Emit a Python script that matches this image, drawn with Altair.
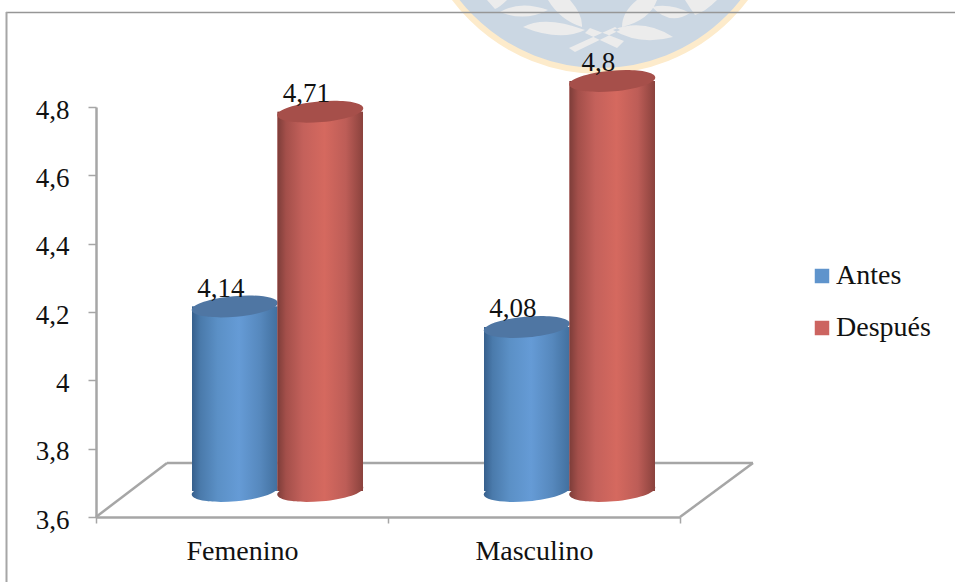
import altair as alt
import pandas as pd

grupos = ["Femenino", "Femenino", "Masculino", "Masculino"]
momentos = ["Antes", "Después", "Antes", "Después"]
valores = [4.14, 4.71, 4.08, 4.8]
etiquetas = ["4,14", "4,71", "4,08", "4,8"]
orden_grupos = ["Femenino", "Masculino"]
orden_momentos = ["Antes", "Después"]
colores = ["#5F94CC", "#CC6460"]
BASE = 3.6
TICKS = [3.6, 3.8, 4.0, 4.2, 4.4, 4.6, 4.8]

# Depth shift of the 3D floor: columns are lifted off the front edge
DY = -26
W, H = 584, 410
FONT = "Liberation Serif"
GRIS = "#A6A6A6"

df = pd.DataFrame({"grupo": grupos, "momento": momentos, "valor": valores,
                   "etiqueta": etiquetas, "base": [BASE] * 4})

escala_y = alt.Scale(domain=[3.6, 4.8], nice=False, zero=False)
x_enc = alt.X("grupo:N", scale=alt.Scale(domain=orden_grupos, paddingInner=0, paddingOuter=0),
              axis=alt.Axis(title=None, labelAngle=0, labelFont=FONT, labelFontSize=28,
                            labelColor="#111111", labelPadding=14, tickBand="extent",
                            tickSize=6, tickWidth=1.5, tickColor=GRIS, domainColor=GRIS,
                            domainWidth=2.5, grid=False))
# Columns sit towards the back of each band, following the floor's depth
off_enc = alt.XOffset("momento:N", scale=alt.Scale(domain=orden_momentos, range=[96, 267],
                                                   paddingInner=0, paddingOuter=0))
eje_y = alt.Axis(title=None, values=TICKS, format="~g",
                 labelExpr="replace(datum.label, '.', ',')", labelFont=FONT,
                 labelFontSize=27, labelColor="#111111", labelPadding=19,
                 labelOffset=3, tickSize=8, tickWidth=1.5, tickColor=GRIS,
                 domainColor=GRIS, domainWidth=2.5, grid=False)
y_enc = alt.Y("valor:Q", scale=escala_y, axis=eje_y)

# Tilted ellipse used for the caps and the rounded feet of the columns
ELIPSE = "M-1,0.09 A1,0.24 -5 1 1 1,-0.09 A1,0.24 -5 1 1 -1,0.09 Z"
TAM_ELIPSE = 86 ** 2


def degradado(stops):
    return alt.Gradient(gradient="linear", x1=0, x2=1, y1=0, y2=0,
                        stops=[alt.GradientStop(offset=o, color=c) for o, c in stops])


TONOS = {
    "Antes": degradado([(0, "#365F8C"), (0.1, "#4A7AAB"), (0.3, "#5B90C6"),
                        (0.55, "#659BD6"), (0.8, "#5688BD"), (1, "#42709F")]),
    "Después": degradado([(0, "#7D3D39"), (0.1, "#A34F4A"), (0.3, "#C4615B"),
                          (0.55, "#D5695F"), (0.8, "#BD5D57"), (1, "#8A423D")]),
}
TAPAS = {"Antes": "#4F76A3", "Después": "#A64F4A"}

base = alt.Chart(df)
capas = []

# Background crest, in page coordinates (anchor moved back to the page origin)
ESCUDO_X, ESCUDO_Y = 600, -111
capas.append(alt.Chart(df.head(1)).mark_point(filled=True, fill="#CBD7E3", stroke="#FDEBCB",
                                              strokeWidth=6, opacity=1, shape="circle", clip=False)
             .encode(x=alt.value(ESCUDO_X - 96), y=alt.value(ESCUDO_Y - 107), size=alt.value(364 ** 2)))
HOJAS = (
    "M523,27 Q545,15 585,30 Q560,42 523,27 Z "
    "M500,12 Q520,0 548,10 Q525,22 500,12 Z "
    "M548,0 L570,0 Q583,15 582,27 Q560,20 548,0 Z "
    "M613,30 Q643,18 673,37 Q640,46 613,30 Z "
    "M652,7 Q670,3 690,13 Q670,26 652,7 Z "
    "M622,27 Q622,12 637,0 L657,0 Q650,20 622,27 Z "
    "M685,0 L717,0 Q705,12 695,15 Q690,8 685,0 Z "
    "M487,0 L507,0 Q500,7 495,9 Z "
    "M569,48 L575,52 L620,30 L615,27 Z "
    "M624,41 L617,48 L585,33 L590,28 Z"
)
capas.append(alt.Chart(df.head(1)).mark_point(filled=True, fill="#ECECEC", opacity=1, shape=HOJAS, clip=False)
             .encode(x=alt.value(-96), y=alt.value(-107), size=alt.value(4)))

# Chart frame
MARCO = "#969696"
capas.append(alt.Chart(df.head(1)).mark_rule(color=MARCO, strokeWidth=1.5)
             .encode(x=alt.value(-96 + 6), x2=alt.value(955 - 96), y=alt.value(12.5 - 107)))
capas.append(alt.Chart(df.head(1)).mark_rule(color=GRIS, strokeWidth=2)
             .encode(x=alt.value(-96 + 6.5), y=alt.value(12 - 107), y2=alt.value(582 - 107)))

# Floor of the 3D plot
PISO = [(0, H, 71, H - 54), (71, H - 54, 657, H - 54), (W, H, 657, H - 54)]
for x0, y0, x1, y1 in PISO:
    capas.append(alt.Chart(df.head(1)).mark_rule(color=GRIS, strokeWidth=2.5)
                 .encode(x=alt.value(x0), x2=alt.value(x1), y=alt.value(y0), y2=alt.value(y1)))

# Columns, back series first so that Después overlaps Antes
for momento in orden_momentos:
    sel = base.transform_filter(alt.datum.momento == momento)
    pie = sel.mark_point(filled=True, fill=TONOS[momento], opacity=1, shape=ELIPSE,
                         size=TAM_ELIPSE, yOffset=DY, clip=False)
    capas.append(pie.encode(x=x_enc, xOffset=off_enc, y=alt.Y("base:Q", scale=escala_y, axis=eje_y)))
    solido = sel.mark_bar(yOffset=DY, y2Offset=DY)
    capas.append(solido.encode(
        x=x_enc, xOffset=off_enc, y=y_enc, y2=alt.Y2("base:Q"),
        color=alt.Color("momento:N", scale=alt.Scale(domain=orden_momentos, range=colores),
                        legend=alt.Legend(title=None, orient="none", legendX=712, legendY=155,
                                          symbolType="square", symbolSize=210, symbolStrokeWidth=0,
                                          labelFont=FONT, labelFontSize=28, labelColor="#111111",
                                          rowPadding=24, labelOffset=0))))
    capas.append(sel.mark_bar(fill=TONOS[momento], yOffset=DY, y2Offset=DY)
                 .encode(x=x_enc, xOffset=off_enc, y=y_enc, y2=alt.Y2("base:Q")))
    tapa = sel.mark_point(filled=True, fill=TAPAS[momento], opacity=1, shape=ELIPSE,
                          size=TAM_ELIPSE, yOffset=DY, clip=False)
    capas.append(tapa.encode(x=x_enc, xOffset=off_enc, y=y_enc))

# Value labels, sitting just above the caps
capas.append(base.mark_text(font=FONT, fontSize=27, color="#111111", align="center",
                            baseline="alphabetic", dx=-14, dy=-36)
             .encode(x=x_enc, xOffset=off_enc, y=y_enc, text="etiqueta:N"))

chart = (alt.layer(*capas)
         .properties(width=W, height=H,
                     padding={"left": 96, "top": 107, "right": 275, "bottom": 65},
                     autosize=alt.AutoSizeParams(type="none"), background="white")
         .configure_view(stroke=None))

chart.save("out.html", embed_options={"renderer": "svg", "actions": False})
